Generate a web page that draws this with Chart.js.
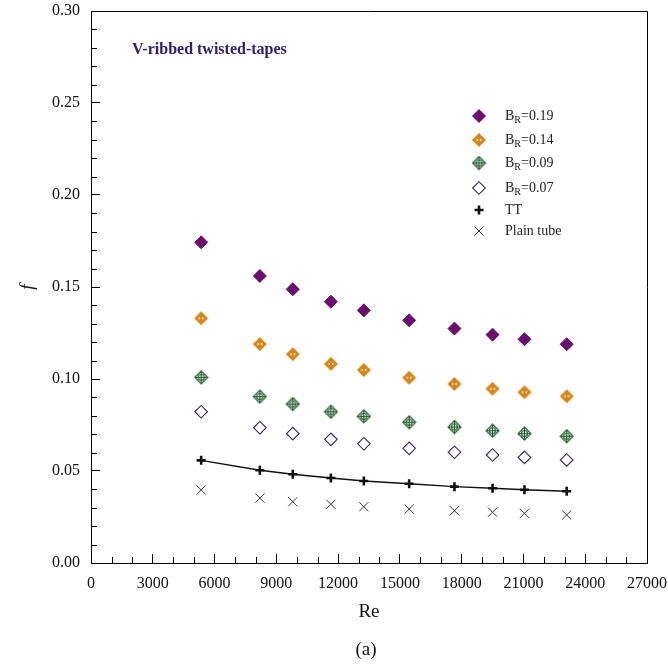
<!DOCTYPE html>
<html>
<head>
<meta charset="utf-8">
<script src="https://cdn.jsdelivr.net/npm/chart.js@4.4.0/dist/chart.umd.min.js"></script>
<style>
html,body{margin:0;padding:0;background:#fff;}
#wrap{width:668px;height:667px;}
</style>
</head>
<body>
<div id="wrap"><canvas id="c" width="668" height="667"></canvas></div>
<script>
// ---- data ----
const reynolds = [5350, 8200, 9800, 11650, 13250, 15450, 17650, 19500, 21050, 23100];
const seriesNames = ['B_R=0.19', 'B_R=0.14', 'B_R=0.09', 'B_R=0.07', 'TT', 'Plain tube'];
const fBR019 = [0.1743, 0.1560, 0.1488, 0.1420, 0.1373, 0.1319, 0.1274, 0.1241, 0.1216, 0.1189];
const fBR014 = [0.1330, 0.1190, 0.1135, 0.1082, 0.1049, 0.1007, 0.0973, 0.0947, 0.0928, 0.0906];
const fBR009 = [0.1009, 0.0904, 0.0864, 0.0822, 0.0797, 0.0765, 0.0739, 0.0719, 0.0703, 0.0689];
const fBR007 = [0.0822, 0.0735, 0.0703, 0.0672, 0.0648, 0.0623, 0.0602, 0.0587, 0.0574, 0.0560];
const fTT    = [0.0558, 0.0504, 0.0482, 0.0462, 0.0446, 0.0431, 0.0415, 0.0406, 0.0398, 0.0390];
const fPlain = [0.0397, 0.0353, 0.0333, 0.0319, 0.0306, 0.0293, 0.0284, 0.0276, 0.0270, 0.0261];
const xTickValues = [0, 3000, 6000, 9000, 12000, 15000, 18000, 21000, 24000, 27000];
const yTickLabels = ['0.00', '0.05', '0.10', '0.15', '0.20', '0.25', '0.30'];
const chartTitle = 'V-ribbed twisted-tapes';
const xTitle = 'Re';
const yTitle = 'f';
const panelLabel = '(a)';

// ---- marker images ----
function makeMarker(draw, size) {
  const c = document.createElement('canvas');
  c.width = size; c.height = size;
  const g = c.getContext('2d');
  draw(g, size / 2, size / 2);
  return c;
}
function diamondPath(g, cx, cy, r) {
  g.beginPath();
  g.moveTo(cx, cy - r); g.lineTo(cx + r, cy); g.lineTo(cx, cy + r); g.lineTo(cx - r, cy); g.closePath();
}
const orangeCol = '#d68619';
const greenCol = '#1f5a2a';
const orangeMarker = makeMarker(function (g, cx, cy) {
  const r = 7;
  diamondPath(g, cx, cy, r);
  g.fillStyle = orangeCol; g.fill();
  g.fillStyle = '#ffffff';
  g.beginPath(); g.moveTo(cx - 0.6, cy); g.lineTo(cx - 2.4, cy - 1.5); g.lineTo(cx - 2.4, cy + 1.5); g.closePath(); g.fill();
  g.beginPath(); g.moveTo(cx + 0.6, cy); g.lineTo(cx + 2.4, cy - 1.5); g.lineTo(cx + 2.4, cy + 1.5); g.closePath(); g.fill();
}, 16);
const greenMarker = makeMarker(function (g, cx, cy) {
  const r = 6.5;
  diamondPath(g, cx, cy, r);
  g.strokeStyle = greenCol; g.lineWidth = 1.1; g.stroke();
  g.beginPath(); g.arc(cx, cy, 3, 0, Math.PI * 2); g.stroke();
  g.beginPath(); g.moveTo(cx - r + 1, cy); g.lineTo(cx + r - 1, cy);
  g.moveTo(cx, cy - r + 1); g.lineTo(cx, cy + r - 1); g.stroke();
}, 15);

const styles = [
  {pointStyle: 'rectRot', radius: 6.5, bg: '#6b0f6e', border: '#6b0f6e', bw: 1},
  {pointStyle: orangeMarker, radius: 7, bg: orangeCol, border: orangeCol, bw: 1},
  {pointStyle: greenMarker, radius: 7, bg: 'rgba(0,0,0,0)', border: greenCol, bw: 1},
  {pointStyle: 'rectRot', radius: 6.3, bg: 'rgba(255,255,255,0)', border: '#2e2870', bw: 1.1},
  {pointStyle: 'cross', radius: 4.5, bg: '#111', border: '#111', bw: 2.6},
  {pointStyle: 'crossRot', radius: 6.5, bg: '#333', border: '#333', bw: 1}
];
const allSeries = [fBR019, fBR014, fBR009, fBR007, fTT, fPlain];

const datasets = allSeries.map(function (vals, i) {
  const s = styles[i];
  return {
    label: seriesNames[i],
    data: reynolds.map(function (x, k) { return {x: x, y: vals[k]}; }),
    showLine: i === 4,
    borderColor: i === 4 ? '#111' : s.border,
    borderWidth: i === 4 ? 1.4 : 0,
    backgroundColor: s.bg,
    pointStyle: s.pointStyle,
    pointRadius: s.radius,
    pointHoverRadius: s.radius,
    pointBackgroundColor: s.bg,
    pointBorderColor: s.border,
    pointBorderWidth: s.bw,
    order: 6 - i
  };
});

const serif = '"Liberation Serif", "Times New Roman", serif';

const decorPlugin = {
  id: 'decor',
  afterDraw: function (chart) {
    const ctx = chart.ctx;
    const a = chart.chartArea;
    const xs = chart.scales.x, ys = chart.scales.y;
    ctx.save();
    // frame top/right
    ctx.strokeStyle = '#000'; ctx.lineWidth = 1;
    ctx.beginPath();
    ctx.moveTo(Math.round(a.left) + 0.5, Math.round(a.top) + 0.5);
    ctx.lineTo(Math.round(a.right) + 0.5, Math.round(a.top) + 0.5);
    ctx.lineTo(Math.round(a.right) + 0.5, Math.round(a.bottom) + 0.5);
    ctx.stroke();
    // minor ticks
    ctx.beginPath();
    for (let v = 1000; v < 27000; v += 1000) {
      if (v % 3000 === 0) continue;
      const px = Math.round(xs.getPixelForValue(v)) + 0.5;
      ctx.moveTo(px, a.bottom); ctx.lineTo(px, a.bottom - 6);
    }
    for (let k = 1; k < 30; k++) {
      if (k % 5 === 0) continue;
      const py = Math.round(ys.getPixelForValue(k / 100)) + 0.5;
      ctx.moveTo(a.left, py); ctx.lineTo(a.left + 6, py);
    }
    ctx.stroke();
    // in-plot title
    ctx.fillStyle = '#2b2176';
    ctx.font = 'bold 16px ' + serif;
    ctx.textAlign = 'left'; ctx.textBaseline = 'middle';
    ctx.fillText(chartTitle, 132, 50);
    // legend
    const rowsY = [116, 140, 163, 188, 210, 231];
    const mx = 479, tx = 505;
    const H = Chart.helpers;
    for (let i = 0; i < 6; i++) {
      const s = styles[i];
      ctx.save();
      ctx.fillStyle = s.bg; ctx.strokeStyle = s.border; ctx.lineWidth = s.bw;
      H.drawPoint(ctx, {pointStyle: s.pointStyle, radius: s.radius, rotation: 0, borderWidth: s.bw}, mx, rowsY[i]);
      ctx.restore();
      ctx.fillStyle = '#222';
      ctx.textBaseline = 'middle'; ctx.textAlign = 'left';
      const name = seriesNames[i];
      if (name.indexOf('B_R') === 0) {
        ctx.font = '14px ' + serif;
        ctx.fillText('B', tx, rowsY[i]);
        let w = ctx.measureText('B').width;
        ctx.font = '10px ' + serif;
        ctx.fillText('R', tx + w, rowsY[i] + 4);
        w += ctx.measureText('R').width;
        ctx.font = '14px ' + serif;
        ctx.fillText(name.slice(3), tx + w, rowsY[i]);
      } else {
        ctx.font = '14px ' + serif;
        ctx.fillText(name, tx, rowsY[i]);
      }
    }
    // panel label
    ctx.fillStyle = '#111';
    ctx.font = '19px ' + serif;
    ctx.textAlign = 'center';
    ctx.fillText(panelLabel, 366, 650);
    ctx.restore();
  }
};

new Chart(document.getElementById('c'), {
  type: 'scatter',
  data: {datasets: datasets},
  options: {
    responsive: false,
    animation: false,
    devicePixelRatio: 1,
    layout: {padding: {top: 11, right: 21, left: 0, bottom: 0}},
    plugins: {legend: {display: false}, tooltip: {enabled: false}, title: {display: false}},
    scales: {
      x: {
        type: 'linear', min: 0, max: 27000,
        afterBuildTicks: function (s) { s.ticks = xTickValues.map(function (v) { return {value: v}; }); },
        ticks: {color: '#111', font: {family: serif, size: 16}, padding: 20, maxRotation: 0, autoSkip: false,
          callback: function (v) { return String(v); }},
        grid: {display: true, drawOnChartArea: false, drawTicks: true, tickLength: -9, tickColor: '#000', tickWidth: 1},
        border: {display: true, color: '#000', width: 1},
        title: {display: true, text: xTitle, color: '#111', font: {family: serif, size: 19}, padding: {top: 0, bottom: 44}},
        afterFit: function (s) { s.height = 104; s.paddingLeft = 0; s.paddingRight = 0; }
      },
      y: {
        type: 'linear', min: 0, max: 0.30,
        afterBuildTicks: function (s) { s.ticks = yTickLabels.map(function (t) { return {value: parseFloat(t)}; }); },
        ticks: {color: '#111', font: {family: serif, size: 16}, padding: 20, autoSkip: false,
          callback: function (v) { return Number(v).toFixed(2); }},
        grid: {display: true, drawOnChartArea: false, drawTicks: true, tickLength: -9, tickColor: '#000', tickWidth: 1},
        border: {display: true, color: '#000', width: 1},
        title: {display: true, text: yTitle, color: '#111', font: {family: serif, size: 19, style: 'italic'}, padding: {top: 17, bottom: 0}},
        afterFit: function (s) { s.width = 91; s.paddingTop = 0; s.paddingBottom = 0; }
      }
    }
  },
  plugins: [decorPlugin]
});
</script>
</body>
</html>
